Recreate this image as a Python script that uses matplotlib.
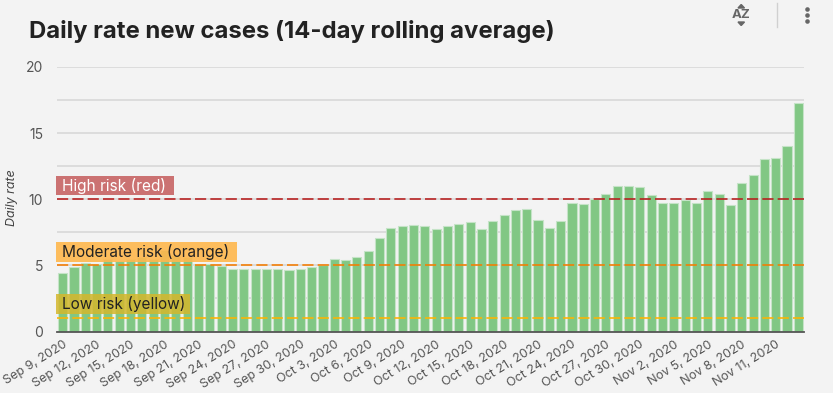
import matplotlib
matplotlib.use('Agg')
import matplotlib.pyplot as plt
from matplotlib.patches import Rectangle, Polygon

plt.rcParams['font.family'] = ['Inter', 'DejaVu Sans']

W, H = 833, 393

# daily rate, Sep 9 to Nov 13 2020
rates = [4.4, 4.85, 5.2, 5.1, 5.5, 5.3, 5.5, 5.6, 5.5, 6.2, 5.8, 5.6, 5.1, 5.1, 4.95, 4.75, 4.75, 4.75, 4.75, 4.75,
         4.65, 4.75, 4.85, 5.0, 5.5, 5.4, 5.6, 6.05, 7.1, 7.85, 7.95, 8.05, 7.95, 7.75, 7.95, 8.15, 8.25, 7.75, 8.35,
         8.8, 9.2, 9.3, 8.4, 7.85, 8.35, 9.75, 9.65, 10.0, 10.4, 11.0, 11.0, 10.9, 10.3, 9.75, 9.75, 9.95, 9.75,
         10.6, 10.4, 9.55, 11.25, 11.8, 13.05, 13.15, 14.0, 17.3]
date_labels = ['Sep 9, 2020', 'Sep 12, 2020', 'Sep 15, 2020', 'Sep 18, 2020', 'Sep 21, 2020', 'Sep 24, 2020',
               'Sep 27, 2020', 'Sep 30, 2020', 'Oct 3, 2020', 'Oct 6, 2020', 'Oct 9, 2020', 'Oct 12, 2020',
               'Oct 15, 2020', 'Oct 18, 2020', 'Oct 21, 2020', 'Oct 24, 2020', 'Oct 27, 2020', 'Oct 30, 2020',
               'Nov 2, 2020', 'Nov 5, 2020', 'Nov 8, 2020', 'Nov 11, 2020']
y_ticks = [0, 5, 10, 15, 20]
y_minor = [2.5, 7.5, 12.5, 17.5]
thresholds = [10, 5, 1]
threshold_colors = ['#b71c1c', '#f57c00', '#ffb300']
risk_labels = ['High risk (red)', 'Moderate risk (orange)', 'Low risk (yellow)']


def fx(x):
    return x / W


def fy(y):
    return 1 - y / H


BG = '#f3f3f3'
TXT = '#555555'

fig = plt.figure(figsize=(W / 100, H / 100), dpi=100, facecolor=BG)
ax = fig.add_axes([fx(57), fy(331.5), (804 - 57) / W, (331.5 - 67) / H], facecolor=BG)

positions = list(range(len(rates)))
ax.bar(positions, rates, width=0.8, color='#81c784', edgecolor='#c5e3c7', linewidth=0.8, zorder=2)
ax.set_xlim(-0.5, len(rates) - 0.5)
ax.set_ylim(0, 20)

ax.set_yticks(y_ticks)
ax.set_yticks(y_minor, minor=True)
ax.grid(True, axis='y', which='major', color='#d6d6d6', lw=1.1, zorder=1)
ax.grid(True, axis='y', which='minor', color='#d6d6d6', lw=1.1, zorder=1)
ax.tick_params(axis='y', which='both', length=0, pad=10, labelsize=10, labelcolor=TXT)

ax.set_xticks(positions[::3])
ax.set_xticklabels(date_labels, rotation=32, ha='right', va='top', rotation_mode='anchor',
                   fontsize=9, color=TXT)
ax.tick_params(axis='x', length=0, pad=5)

for s in ['top', 'left', 'right']:
    ax.spines[s].set_visible(False)
ax.spines['bottom'].set_color('#555555')
ax.spines['bottom'].set_linewidth(1.3)
ax.spines['bottom'].set_zorder(4)

for val, col in zip(thresholds, threshold_colors):
    ax.axhline(val, color=col, lw=1.15, dashes=(7, 2.6), zorder=3)

# labels on the threshold lines
boxes = [(56, 176, 118, 19, '#c96b6b', 0.95, 'white'),
         (56, 242, 181, 20, '#ffb74d', 0.9, '#222222'),
         (56, 294, 134, 20, '#d4b72c', 0.85, '#222222')]
for (bx, by, bw, bh, col, alpha, tcol), lab in zip(boxes, risk_labels):
    ax.add_patch(Rectangle((fx(bx), fy(by + bh)), bw / W, bh / H, transform=fig.transFigure,
                           facecolor=col, edgecolor='none', alpha=alpha, clip_on=False, zorder=5))
    fig.text(fx(bx + 6), fy(by + bh / 2 + 0.5), lab, fontsize=11.1, color=tcol, va='center', ha='left', zorder=6)

fig.text(fx(29), fy(31.5), 'Daily rate new cases (14-day rolling average)', fontsize=17.2, fontweight='bold',
         color='#222222', va='center', ha='left')
fig.text(fx(12), fy(198), 'Daily rate', fontsize=9, style='italic', color='#444444', rotation=90,
         va='center', ha='center')

# toolbar icons
fig.text(fx(741.5), fy(15), 'AZ', fontsize=9.5, fontweight='bold', color='#666666', va='center', ha='center')
fig.add_artist(Polygon([(fx(738), fy(8)), (fx(744.5), fy(8)), (fx(741.2), fy(4.5))], transform=fig.transFigure, color='#666666'))
fig.add_artist(Polygon([(fx(738), fy(22)), (fx(744.5), fy(22)), (fx(741.2), fy(25.5))], transform=fig.transFigure, color='#666666'))
fig.add_artist(plt.Line2D([fx(776.5), fx(776.5)], [fy(3), fy(27)], color='#d0d0d0', lw=1))
for dot_y in [9, 15, 21]:
    fig.add_artist(plt.Line2D([fx(807)], [fy(dot_y)], marker='o', ms=3.3, mew=0, color='#666666', ls='none'))

fig.savefig('out.png', dpi=100, facecolor=BG)
